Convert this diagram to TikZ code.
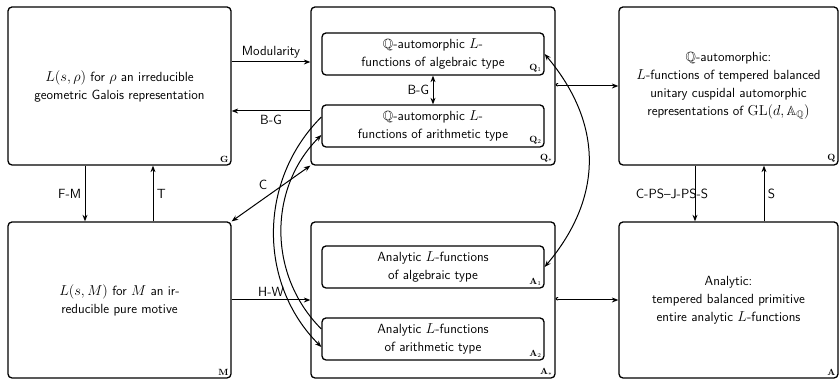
\documentclass[tikz,border=0pt]{standalone}
\usepackage{amssymb}
\usetikzlibrary{arrows.meta,calc}

\begin{document}
\begin{tikzpicture}[x=1pt,y=1pt,
    font=\fontsize{13.3}{18}\selectfont\sffamily,
    bigbox/.style={draw,line width=1.3pt,rounded corners=4pt,align=center,minimum height=158pt},
    smallbox/.style={draw,line width=1.3pt,rounded corners=4pt,align=center,minimum width=222pt,minimum height=42pt},
    tag/.style={anchor=south east,inner sep=3pt,font=\fontsize{9}{10}\selectfont},
    arr/.style={line width=1pt,-{Stealth[length=6.5pt,width=5pt]}},
    darr/.style={line width=1pt,{Stealth[length=6.5pt,width=5pt]}-{Stealth[length=6.5pt,width=5pt]}},
    harr/.style={line width=1pt,{Hooks[right,length=2.5pt,width=6pt]}-{Stealth[length=6.5pt,width=5pt]}}]
    \useasboundingbox (0,0) rectangle (839,379);

    \node[bigbox,minimum width=223pt] (G) at (119.5,293) {$L(s,\rho)$ for $\rho$ an irreducible\\geometric Galois representation};
    \node[bigbox,minimum width=244pt] (Qs) at (433,293) {};
    \node[bigbox,minimum width=219pt] (Q) at (728.5,293) {$\mathbb{Q}$-automorphic:\\$L$-functions of tempered balanced\\unitary cuspidal automorphic\\representations of $\mathrm{GL}(d,\mathbb{A}_{\mathbb{Q}})$};

    \node[bigbox,minimum width=223pt,minimum height=156pt] (M) at (119.5,79) {$L(s,M)$ for $M$ an ir-\\reducible pure motive};
    \node[bigbox,minimum width=244pt,minimum height=156pt] (As) at (433,79) {};
    \node[bigbox,minimum width=219pt,minimum height=156pt] (A) at (728.5,79) {Analytic:\\tempered balanced primitive\\entire analytic $L$-functions};

    \node[smallbox] (Q1) at (433,325) {$\mathbb{Q}$-automorphic $L$-\\functions of algebraic type};
    \node[smallbox] (Q2) at (433,253) {$\mathbb{Q}$-automorphic $L$-\\functions of arithmetic type};
    \node[smallbox] (A1) at (433,112) {Analytic $L$-functions\\of algebraic type};
    \node[smallbox] (A2) at (433,40) {Analytic $L$-functions\\of arithmetic type};

    \node[tag] (G-tag) at (G.south east) {$\mathbf{G}$};
    \node[tag] (Qs-tag) at (Qs.south east) {$\mathbf{Q}_{*}$};
    \node[tag] (Q-tag) at (Q.south east) {$\mathbf{Q}$};
    \node[tag] (M-tag) at (M.south east) {$\mathbf{M}$};
    \node[tag] (As-tag) at (As.south east) {$\mathbf{A}_{*}$};
    \node[tag] (A-tag) at (A.south east) {$\mathbf{A}$};
    \node[tag] (Q1-tag) at (Q1.south east) {$\mathbf{Q}_1$};
    \node[tag] (Q2-tag) at (Q2.south east) {$\mathbf{Q}_2$};
    \node[tag] (A1-tag) at (A1.south east) {$\mathbf{A}_1$};
    \node[tag] (A2-tag) at (A2.south east) {$\mathbf{A}_2$};

    \coordinate (mod) at ($(G.east)+(0,24)$);
    \coordinate (bg) at ($(G.east)+(0,-25)$);
    \coordinate (fm) at ($(G.south)+(-34.5,0)$);
    \coordinate (t) at ($(G.south)+(33.5,0)$);
    \coordinate (cps) at ($(Q.south)+(-33.5,0)$);
    \coordinate (s) at ($(Q.south)+(35.5,0)$);
    \coordinate (q2o) at ($(Q2.west)+(0,9)$);
    \coordinate (q2i) at ($(Q2.west)+(0,-9)$);
    \coordinate (a2o) at ($(A2.west)+(0,-8)$);
    \coordinate (a2i) at ($(A2.west)+(0,10)$);

    \draw[arr] (mod) -- (mod -| Qs.west) node[midway,above] {Modularity};
    \draw[arr] (bg -| Qs.west) -- (bg) node[midway,below] {B-G};
    \draw[darr] (Q1.south) -- (Q2.north) node[midway,left] {B-G};

    \draw[arr] (fm) -- (fm |- M.north) node[midway,left] {F-M};
    \draw[arr] (t |- M.north) -- (t) node[midway,right] {T};
    \draw[darr] (Qs.south west) -- (M.north east) node[midway,above left] {C};
    \draw[arr] (M.east) -- (As.west) node[midway,above] {H-W};

    \draw[harr] (Qs.east) -- (Q.west);
    \draw[harr] (As.east) -- (A.west);
    \draw[arr] (cps) -- (cps |- A.north) node[midway,xshift=-23pt] {C-PS\textendash J-PS-S};
    \draw[arr] (s |- A.north) -- (s) node[midway,right] {S};

    \draw[darr] (Q1.east) to[out=-50,in=50,looseness=1.1] (A1.east);
    \draw[arr] (q2o) to[out=-135,in=135] (a2o);
    \draw[arr] (a2i) to[out=135,in=-135] (q2i);
\end{tikzpicture}
\end{document}
